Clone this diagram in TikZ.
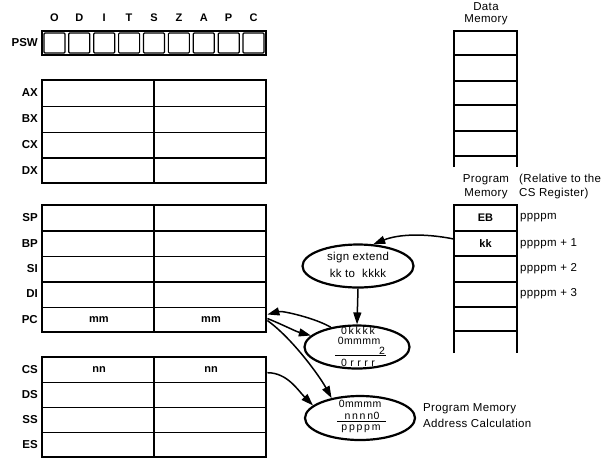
\documentclass[tikz,border=0pt]{standalone}
\usepackage{fontspec}
\setmainfont{Liberation Sans}
\usetikzlibrary{arrows.meta,shapes.geometric}
\begin{document}
\begin{tikzpicture}[x=1pt,y=-1pt,
  frame/.style={line width=2.6pt},
  thinline/.style={line width=1.4pt},
  lbl/.style={font=\fontsize{11.5}{12}\selectfont\bfseries, anchor=east, inner sep=0pt},
  txt/.style={font=\fontsize{11.5}{12}\selectfont\addfontfeatures{LetterSpace=3}, inner sep=0pt},
  tiny/.style={font=\fontsize{10.5}{10}\selectfont\addfontfeatures{LetterSpace=4}, inner sep=0pt},
  cell/.style={font=\fontsize{11}{12}\selectfont\bfseries, inner sep=0pt},
  flagl/.style={font=\fontsize{11}{12}\selectfont\bfseries, inner sep=0pt},
  oval/.style={ellipse, draw, line width=2.2pt, inner sep=0pt},
  arr/.style={line width=1.5pt, -{Triangle[length=12pt,width=8pt]}},
  regrow/.style={draw, line width=1.4pt, minimum width=224pt, minimum height=#1, inner sep=0pt, anchor=north west},
  memrow/.style={minimum width=63pt, minimum height=25pt, inner sep=0pt, font=\fontsize{11}{12}\selectfont\bfseries},
  flag/.style={draw, line width=1.2pt, rounded corners=1pt, minimum width=21pt, minimum height=20pt, inner sep=0pt}
]
\useasboundingbox (0,0) rectangle (607,459);

% PSW
\foreach \c [count=\i from 0] in {O,D,I,T,S,Z,A,P,C} {
  \node[flag] (f\c) at (42+24.889*\i+12.44, 43) {};
  \node[flagl] (l\c) at (42+24.889*\i+12.44, 18) {\c};
}
\draw[frame] (42,31) rectangle (266,55);
\node[lbl] (pswl) at (38,43) {PSW};

% general registers
\foreach \n [count=\i from 0] in {AX,BX,CX,DX} {
  \node[regrow=25.75pt] (\n) at (42, 80+\i*25.75) {};
  \node[lbl] (\n l) at (38, 80+\i*25.75+12.9) {\n};
}
\draw[thinline] (154,80) -- (154,183);
\draw[frame] (42,80) rectangle (266,183);

\foreach \n [count=\i from 0] in {SP,BP,SI,DI,PC} {
  \node[regrow=25.4pt] (\n) at (42, 205+\i*25.4) {};
  \node[lbl] (\n l) at (38, 205+\i*25.4+12.7) {\n};
}
\draw[thinline] (154,205) -- (154,332);
\draw[frame] (42,205) rectangle (266,332);

\foreach \n [count=\i from 0] in {CS,DS,SS,ES} {
  \node[regrow=25pt] (\n) at (42, 357+\i*25) {};
  \node[lbl] (\n l) at (38, 357+\i*25+12.5) {\n};
}
\draw[thinline] (154,357) -- (154,457);
\draw[frame] (42,357) rectangle (266,457);

\node[cell] (mm1) at (99,320) {mm};
\node[cell] (mm2) at (211,320) {mm};
\node[cell] (nn1) at (99,370) {nn};
\node[cell] (nn2) at (211,370) {nn};

% data memory
\node[txt] (dmt1) at (486,7) {Data};
\node[txt] (dmt2) at (486,20) {Memory};
\draw[frame] (454,167) -- (454,31) -- (517,31) -- (517,167);
\foreach \y in {55,81,105,131,156} \draw[thinline] (454,\y) -- (517,\y);

% program memory
\node[txt] (pmt1) at (486,180) {Program};
\node[txt] (pmt2) at (486,194) {Memory};
\node[txt, anchor=west] (rel1) at (519,180) {(Relative to the};
\node[txt, anchor=west] (rel2) at (519,194) {CS Register)};
\draw[frame] (454,353) -- (454,205) -- (517,205) -- (517,353);
\foreach \y in {231,256,282,307,331} \draw[thinline] (454,\y) -- (517,\y);
\node[memrow] (pm1) at (485.5,218) {EB};
\node[memrow] (pm2) at (485.5,243.5) {kk};
\node[memrow] (pm3) at (485.5,269) {};
\node[memrow] (pm4) at (485.5,294.5) {};
\node[txt, anchor=west] (a1) at (520,218) {ppppm};
\node[txt, anchor=west] (a2) at (520,244) {ppppm + 1};
\node[txt, anchor=west] (a3) at (520,269) {ppppm + 2};
\node[txt, anchor=west] (a4) at (520,294) {ppppm + 3};

% ellipses
\node[oval, minimum width=111pt, minimum height=43pt] (E1) at (358,266) {};
\node[txt] (e1a) at (358,258) {sign extend};
\node[txt] (e1b) at (358,273) {kk to\ \ kkkk};

\node[oval, minimum width=105pt, minimum height=43pt] (E2) at (357,347) {};
\node[tiny] (e2a) at (358,331) {0\,k\,k\,k\,k};
\node[tiny] (e2b) at (359,341) {0mmmm};
\node[tiny] (e2c) at (382,350.5) {2};
\draw[line width=1.1pt] (335,355.5) -- (386,355.5);
\node[tiny] (e2d) at (358,362.5) {0\,\,r\,\,r\,\,r\,\,r};

\node[oval, minimum width=110pt, minimum height=44pt] (E3) at (360,418) {};
\node[tiny] (e3a) at (360,404) {0mmmm};
\node[tiny] (e3b) at (362,415.5) {n\,n\,n\,n0};
\draw[line width=1.1pt] (337,421.5) -- (386,421.5);
\node[tiny] (e3c) at (361,428.5) {p\,p\,p\,p\,m};

\node[txt, anchor=west] (pmac1) at (423,409) {Program Memory};
\node[txt, anchor=west] (pmac2) at (423,423) {Address Calculation};

% connectors
\draw[arr] ([yshift=4.5pt]pm2.west) .. controls +(-30,-6) and +(25,-10) .. (E1.55);
\draw[arr] (E1.south) -- (E2.north);
\draw[arr] (E2.143) .. controls +(-15,-9) and +(15,-4) .. ([yshift=5.5pt]PC.east);
\draw[arr] ([yshift=1.5pt]PC.east) .. controls +(15,6) and +(-15,-4) .. (E2.166);
\draw[arr] ([yshift=-0.5pt]PC.east) .. controls +(25,18) and +(-12,-22) .. (E3.145);
\draw[arr] ([yshift=-2.5pt]CS.east) .. controls +(20,0) and +(-15,-15) .. (E3.165);
\end{tikzpicture}
\end{document}
